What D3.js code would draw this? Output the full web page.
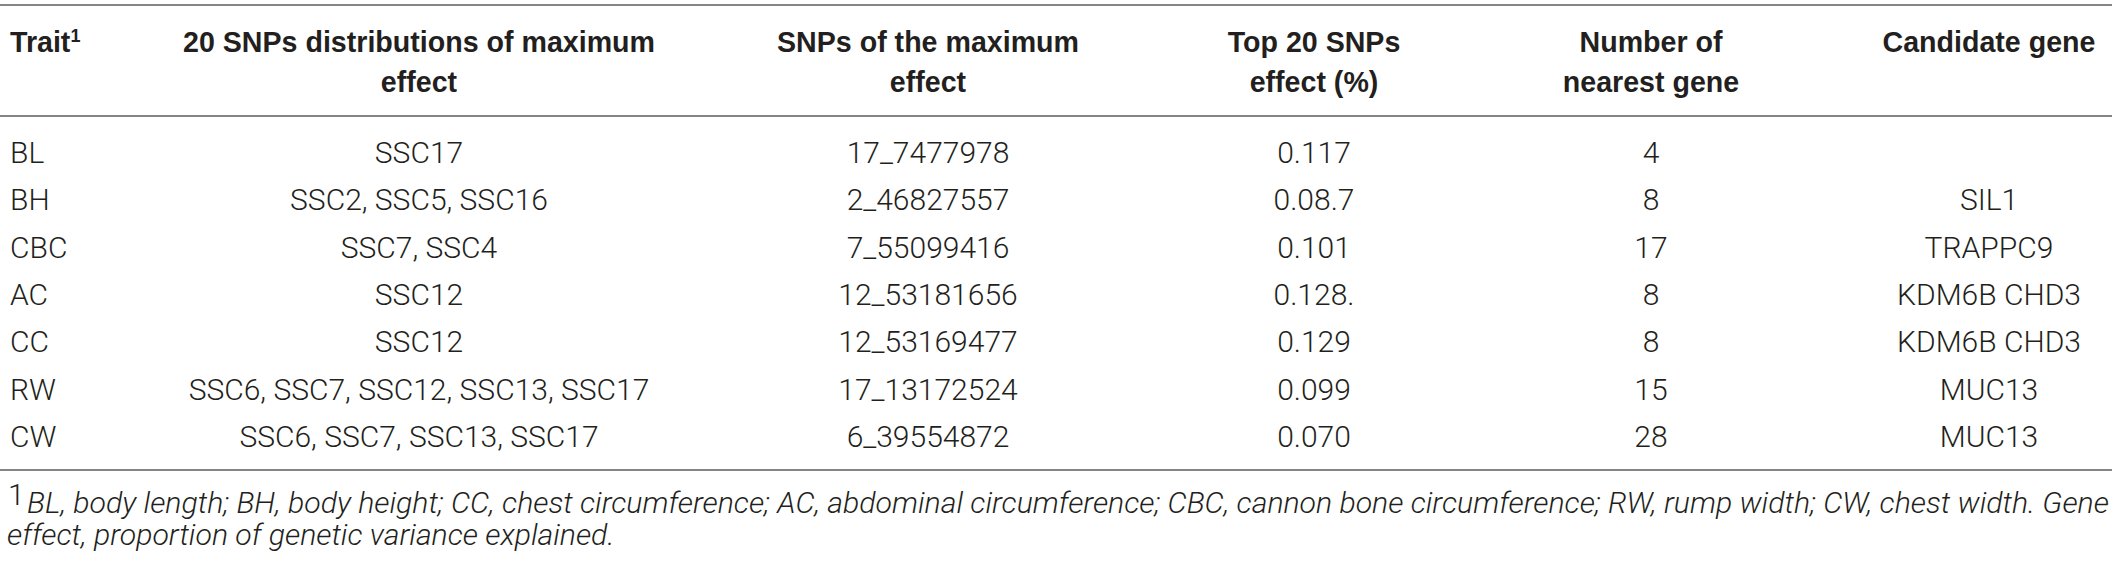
<!DOCTYPE html>
<html>
<head>
<meta charset="utf-8">
<script src="https://cdn.jsdelivr.net/npm/d3@7"></script>
<style>
  body { margin: 0; background: #fff; }
  svg { display: block; }
  .head { font-family: "Liberation Sans", Arial, sans-serif; font-weight: 700; font-size: 28.6px; fill: #231f20; }
  .cell { font-family: Roboto, "Liberation Sans", sans-serif; font-weight: 300; font-size: 30px; fill: #231f20; }
  .note { font-family: Roboto, "Liberation Sans", sans-serif; font-weight: 300; font-style: italic; font-size: 30px; fill: #231f20; }
</style>
</head>
<body>
<div id="table"></div>
<script>
const traits = ['BL', 'BH', 'CBC', 'AC', 'CC', 'RW', 'CW'];
const snpDistributions = ['SSC17', 'SSC2, SSC5, SSC16', 'SSC7, SSC4', 'SSC12', 'SSC12',
    'SSC6, SSC7, SSC12, SSC13, SSC17', 'SSC6, SSC7, SSC13, SSC17'];
const maxSnps = ['17_7477978', '2_46827557', '7_55099416', '12_53181656', '12_53169477', '17_13172524', '6_39554872'];
const topEffects = ['0.117', '0.08.7', '0.101', '0.128.', '0.129', '0.099', '0.070'];
const nearestGenes = [4, 8, 17, 8, 8, 15, 28];
const candidateGenes = ['', 'SIL1', 'TRAPPC9', 'KDM6B CHD3', 'KDM6B CHD3', 'MUC13', 'MUC13'];

const columns = ['trait', 'dist', 'snp', 'effect', 'nearest', 'gene'];
const headers = [
    ['Trait'],
    ['20 SNPs distributions of maximum', 'effect'],
    ['SNPs of the maximum', 'effect'],
    ['Top 20 SNPs', 'effect (%)'],
    ['Number of', 'nearest gene'],
    ['Candidate gene']
];
const footnote = [
    'BL, body length; BH, body height; CC, chest circumference; AC, abdominal circumference; CBC, cannon bone circumference; RW, rump width; CW, chest width. Gene',
    'effect, proportion of genetic variance explained.'
];

const width = 2118, height = 563;

const svg = d3.select('#table').append('svg')
    .attr('width', width)
    .attr('height', height);

// column anchors (first column left aligned, the rest centred)
const x = d3.scaleOrdinal().domain(columns).range([10, 419, 928, 1314, 1651, 1989]);
const anchor = c => c === 'trait' ? 'start' : 'middle';

const y = d3.scalePoint().domain(traits).range([163, 447]);

const rows = traits.map((t, i) => ({
    trait: t,
    dist: snpDistributions[i],
    snp: maxSnps[i],
    effect: topEffects[i],
    nearest: nearestGenes[i],
    gene: candidateGenes[i]
}));

// rules
const rules = [5, 116, 470];
svg.selectAll('.rule')
    .data(rules)
    .enter().append('line')
    .attr('class', 'rule')
    .attr('x1', 0)
    .attr('x2', 2112)
    .attr('y1', d => d)
    .attr('y2', d => d)
    .attr('stroke', '#858585')
    .attr('stroke-width', 2);

// header
const head = svg.append('g');
columns.forEach((c, i) => {
    const t = head.append('text')
        .attr('class', 'head')
        .attr('x', x(c))
        .attr('text-anchor', anchor(c));
    headers[i].forEach((line, j) => {
        t.append('tspan')
            .attr('x', x(c))
            .attr('y', 52 + j * 40)
            .text(line);
    });
    if (c === 'trait') {
        t.append('tspan')
            .attr('font-size', 18)
            .attr('dy', -10)
            .text('1');
    }
});

// body cells
const body = svg.append('g');
rows.forEach(r => {
    columns.forEach(c => {
        body.append('text')
            .attr('class', 'cell')
            .attr('x', x(c))
            .attr('y', y(r.trait))
            .attr('text-anchor', anchor(c))
            .text(r[c]);
    });
});

// footnote
const note = svg.append('g');
note.append('text')
    .attr('class', 'cell')
    .attr('x', 8)
    .attr('y', 505)
    .attr('font-size', 21)
    .text('1');

const lines = note.selectAll('.note')
    .data(footnote)
    .enter().append('text')
    .attr('class', 'note')
    .attr('x', (d, i) => i === 0 ? 27 : 7)
    .attr('y', (d, i) => 513 + i * 32)
    .text(d => d);

// size the footnote so its first line runs to the right edge of the rules
const natural = lines.node().getComputedTextLength();
const fs = 30 * (2110 - 27) / natural;
lines.style('font-size', fs + 'px');
</script>
</body>
</html>
